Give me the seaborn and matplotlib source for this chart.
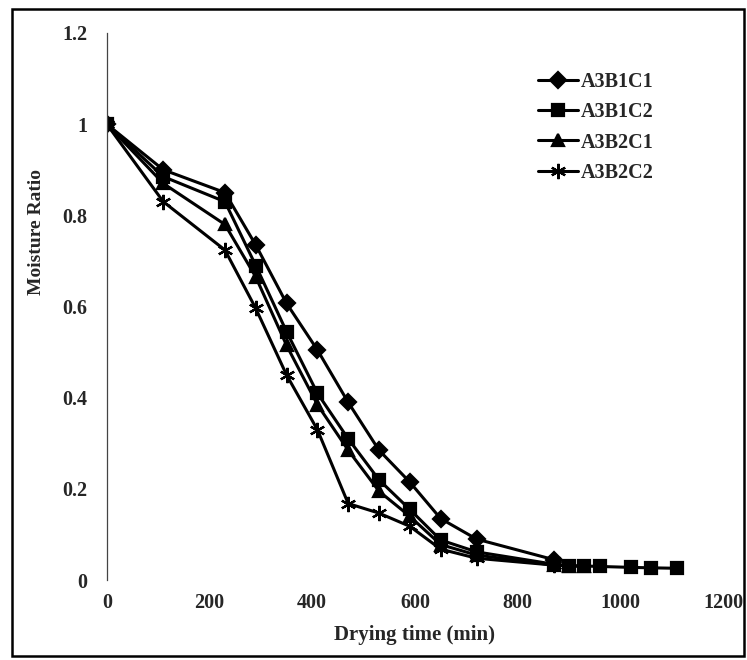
import matplotlib.pyplot as plt
import seaborn as sns
from matplotlib.patches import Rectangle

# drying time (min) and moisture ratio
time_b1c1 = [0, 110, 230, 290, 350, 410, 470, 530, 590, 650, 720, 870]
mr_b1c1 = [1.0, 0.90, 0.85, 0.735, 0.607, 0.505, 0.39, 0.285, 0.215, 0.135, 0.09, 0.045]

time_b1c2 = [0, 110, 230, 290, 350, 410, 470, 530, 590, 650, 720, 870, 900, 930, 960, 1020, 1060, 1110]
mr_b1c2 = [1.0, 0.885, 0.83, 0.69, 0.545, 0.41, 0.31, 0.22, 0.155, 0.088, 0.062,
           0.035, 0.032, 0.031, 0.03, 0.028, 0.027, 0.026]

time_b2c1 = [0, 110, 230, 290, 350, 410, 470, 530, 590, 650, 720, 870, 900, 930]
mr_b2c1 = [1.0, 0.87, 0.78, 0.665, 0.515, 0.385, 0.285, 0.195, 0.14, 0.078, 0.055, 0.033, 0.031, 0.03]

time_b2c2 = [0, 110, 230, 290, 350, 410, 470, 530, 590, 650, 720, 870]
mr_b2c2 = [1.0, 0.83, 0.724, 0.596, 0.45, 0.33, 0.168, 0.147, 0.118, 0.068, 0.048, 0.033]

labels = ["A3B1C1", "A3B1C2", "A3B2C1", "A3B2C2"]

sns.set_style("white")
plt.rcParams["font.family"] = ["Liberation Serif", "DejaVu Serif"]
plt.rcParams["font.weight"] = "bold"

fig = plt.figure(figsize=(7.47, 6.6), dpi=100)
ax = fig.add_axes([0.143, 0.121, 0.825, 0.829])

series = [
    (time_b1c1, mr_b1c1, "D", 8),
    (time_b1c2, mr_b1c2, "s", 9),
    (time_b2c1, mr_b2c1, "^", 9),
    (time_b2c2, mr_b2c2, (6, 2, 0), 11),
]
for (t, mr, mk, ms), lab in zip(series, labels):
    sns.lineplot(
        x=t, y=mr, ax=ax, color="black", linewidth=2.2, marker=mk, markersize=ms,
        markeredgecolor="black", markerfacecolor="black", markeredgewidth=1.6,
        label=lab, sort=False,
    )

ax.set_xlim(0, 1200)
ax.set_ylim(0, 1.2)
ax.set_xticks([0, 200, 400, 600, 800, 1000, 1200])
ax.set_yticks([0, 0.2, 0.4, 0.6, 0.8, 1.0, 1.2])
ax.set_yticklabels(["0", "0.2", "0.4", "0.6", "0.8", "1", "1.2"])
ax.tick_params(axis="both", length=0, labelsize=14.5)
ax.tick_params(axis="x", pad=9)
ax.tick_params(axis="y", pad=14)
for lab in ax.get_xticklabels() + ax.get_yticklabels():
    lab.set_fontweight("bold")

for side in ["top", "right", "bottom"]:
    ax.spines[side].set_visible(False)
ax.spines["left"].set_color("#444444")
ax.spines["left"].set_linewidth(0.9)
ax.spines["left"].set_linestyle((0, (6, 1)))

ax.set_xlabel("Drying time (min)", fontsize=15, fontweight="bold", labelpad=9)
ax.set_ylabel("Moisture Ratio", fontsize=14, fontweight="bold")
ax.yaxis.set_label_coords(-0.101, 0.636)

ax.legend(
    loc="upper left", bbox_to_anchor=(0.70, 0.928), frameon=False,
    borderpad=0, borderaxespad=0,
    handlelength=2.0, handletextpad=0.1, labelspacing=0.5,
    prop={"weight": "bold", "size": 14.5},
)

fig.add_artist(Rectangle((0.016, 0.006), 0.98, 0.98, transform=fig.transFigure,
                         fill=False, edgecolor="black", linewidth=1.8))

fig.savefig("out.png", dpi=100)
